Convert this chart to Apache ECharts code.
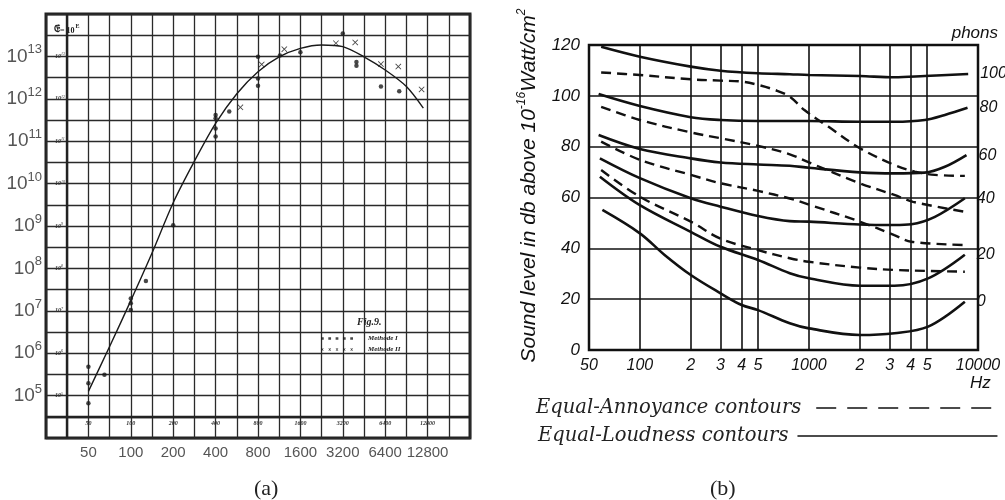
<!DOCTYPE html>
<html>
<head>
<meta charset="utf-8">
<script src="https://cdn.jsdelivr.net/npm/echarts@6/dist/echarts.min.js"></script>
<style>
html,body{margin:0;padding:0;background:#fff;}
#c{width:1005px;height:500px;}
</style>
</head>
<body>
<div id="c"></div>
<script>
// ================= (a) data =================
// frequency N (x, octave axis) and exponent E of 𝔈 = 10^E (y)
const octaveTicks = [50, 100, 200, 400, 800, 1600, 3200, 6400, 12800];
const exponentTicks = [5, 6, 7, 8, 9, 10, 11, 12, 13];
const fitN = [50, 71, 100, 141, 200, 283, 400, 566, 800, 1131, 1600, 2263, 3200, 4525, 6400, 9051, 11940];
const fitE = [5.10, 6.17, 7.24, 8.35, 9.55, 10.53, 11.42, 12.12, 12.64, 12.99, 13.19, 13.27, 13.23, 12.99, 12.68, 12.29, 11.78];
const methode1N = [50, 50, 50, 65, 100, 100, 100, 128, 200, 400, 400, 400, 400, 500, 800, 800, 800, 1145, 1600, 3200, 4000, 4000, 5970, 8050];
const methode1E = [5.68, 5.29, 4.82, 5.49, 7.29, 7.18, 7.02, 7.70, 9.02, 11.62, 11.54, 11.30, 11.11, 11.70, 12.99, 12.48, 12.31, 13.02, 13.10, 13.54, 12.87, 12.78, 12.29, 12.18];
const methode2N = [600, 850, 1230, 2860, 3920, 5970, 7930, 11600];
const methode2E = [11.80, 12.81, 13.17, 13.31, 13.33, 12.82, 12.76, 12.22];

// ================= (b) data =================
const freqGrid = [100, 200, 300, 400, 500, 1000, 2000, 3000, 4000, 5000];
const freqLabelValues = [50, 100, 200, 300, 400, 500, 1000, 2000, 3000, 4000, 5000, 10000];
const freqLabels = ['50', '100', '2', '3', '4', '5', '1000', '2', '3', '4', '5', '10000'];
const loudnessPhons = [100, 80, 60, 40, 20, 0];
const loud100 = [[59,119.3],[100,115.4],[200,111.5],[300,109.9],[500,108.9],[770,108.5],[1000,108.2],[2000,107.8],[3200,107.3],[4840,107.8],[8750,108.6]];
const loud80  = [[57,100.7],[100,96.0],[200,91.6],[300,90.5],[500,90.1],[1000,90.1],[2000,89.8],[3200,89.8],[4840,90.5],[6370,92.5],[8670,95.3]];
const loud60  = [[57,84.6],[100,79.1],[200,75.4],[300,73.8],[500,73.0],[770,72.5],[1000,71.7],[2000,69.9],[3200,69.5],[4840,69.8],[6370,72.1],[8550,76.7]];
const loud40  = [[58,75.4],[100,67.6],[200,59.7],[300,56.4],[500,52.7],[770,50.7],[1000,50.5],[2000,49.4],[3200,49.2],[4040,49.5],[5560,52.4],[8360,59.7]];
const loud20  = [[58,68.2],[100,57.0],[200,46.5],[300,40.6],[500,35.4],[770,30.2],[1000,28.2],[2000,25.3],[3200,25.3],[5070,28.2],[8360,37.5]];
const loud0   = [[60,55.1],[100,45.9],[140,37.4],[200,29.5],[300,22.3],[400,17.7],[500,15.7],[770,10.5],[1000,8.5],[2000,5.9],[3200,6.6],[5070,9.2],[8360,19.0]];
const annoy1  = [[59,109.2],[100,108.2],[200,106.5],[300,106.0],[400,105.6],[500,104.3],[630,102.3],[770,99.7],[940,94.4],[1300,87.9],[2000,79.4],[3200,72.8],[4230,70.2],[5560,68.9],[8360,68.5]];
const annoy2  = [[59,95.7],[100,90.5],[200,85.6],[300,83.3],[500,80.3],[770,77.0],[1000,73.8],[2000,65.6],[3200,61.0],[4130,58.3],[8360,54.4]];
const annoy3  = [[59,82.0],[100,74.8],[200,68.9],[300,65.6],[500,62.6],[770,59.6],[1000,57.2],[2000,50.5],[3200,45.2],[4040,42.6],[8360,41.3]];
const annoy4  = [[59,70.8],[100,60.3],[200,50.5],[300,43.8],[500,39.3],[770,36.1],[1000,34.7],[2000,32.4],[3200,31.5],[5070,31.1],[8360,30.8]];

// ================= helpers =================
const octave = n => Math.log2(n / 25);          // position on the octave axis of (a)
const lg = f => Math.log10(f);                   // position on the log-frequency axis of (b)
const near = (a, b) => Math.abs(a - b) < 1e-6;

const DARK = '#222';
const ink = '#111';
const noSymbol = { color: 'rgba(0,0,0,0)', borderWidth: 0, opacity: 0 };

const dotsIcon = 'path://M0,0h3v3h-3zM8,0h3v3h-3zM16,0h3v3h-3zM24,0h3v3h-3zM32,0h3v3h-3z';
const crossUnit = (x) => `M${x},0L${x+1},0L${x+1.5},1L${x+2},0L${x+3},0L${x+2},1.5L${x+3},3L${x+2},3L${x+1.5},2L${x+1},3L${x},3L${x+1},1.5Z`;
const crossIcon = 'path://' + [0, 8, 16, 24, 32].map(crossUnit).join('');
const crossSymbol = 'path://M0,1L1,0L5,4L9,0L10,1L6,5L10,9L9,10L5,6L1,10L0,9L4,5Z';

const loudSets = [loud100, loud80, loud60, loud40, loud20, loud0];
const annoySets = [annoy1, annoy2, annoy3, annoy4];

const rightSeries = [];
annoySets.forEach(set => {
  rightSeries.push({
    name: 'Equal-Annoyance contours', type: 'line', xAxisIndex: 2, yAxisIndex: 2,
    smooth: 0.35, symbol: 'none', silent: true,
    itemStyle: { color: ink },
    lineStyle: { color: ink, width: 2.4, type: [10, 6] },
    data: set.map(p => [lg(p[0]), p[1]])
  });
});
loudSets.forEach((set, i) => {
  rightSeries.push({
    name: 'Equal-Loudness contours', type: 'line', xAxisIndex: 2, yAxisIndex: 2,
    smooth: 0.35, symbol: 'none', silent: true,
    itemStyle: { color: ink },
    lineStyle: { color: ink, width: 2.6, type: 'solid' },
    endLabel: {
      show: true, formatter: String(loudnessPhons[i]), distance: 12,
      fontFamily: 'Liberation Sans', fontStyle: 'italic', fontSize: 16, color: ink
    },
    data: set.map(p => [lg(p[0]), p[1]])
  });
});

const option = {
  animation: false,
  backgroundColor: '#fff',
  title: [
    { text: '(a)', left: 249, top: 473, textStyle: { fontFamily: 'Liberation Serif', fontWeight: 'normal', fontSize: 22, color: DARK } },
    { text: '(b)', left: 705, top: 473, textStyle: { fontFamily: 'Liberation Serif', fontWeight: 'normal', fontSize: 22, color: DARK } },
    { text: 'Fig.9.', left: 352, top: 312, textStyle: { fontFamily: 'Liberation Serif', fontStyle: 'italic', fontWeight: 'bold', fontSize: 10, color: DARK } },
    { text: '{e|𝔈}{t|= 10}{s|E}', left: 49, top: 18,
      textStyle: { rich: {
        e: { fontFamily: 'DejaVu Serif', fontSize: 10, fontWeight: 'bold', color: DARK },
        t: { fontFamily: 'Liberation Serif', fontSize: 8, color: DARK, padding: [3, 0, 0, 0] },
        s: { fontFamily: 'Liberation Serif', fontSize: 6, color: DARK, padding: [0, 0, 6, 1] } } } },
    { text: 'phons', right: 2, top: 20, textStyle: { fontFamily: 'Liberation Sans', fontStyle: 'italic', fontWeight: 'normal', fontSize: 17, color: ink } }
  ],
  legend: [
    {
      data: [{ name: 'Methode I', icon: dotsIcon }, { name: 'Methode II', icon: crossIcon }],
      left: 316, top: 330, orient: 'vertical', itemWidth: 32, itemHeight: 4, itemGap: 4,
      selectedMode: false,
      textStyle: { fontFamily: 'Liberation Serif', fontStyle: 'italic', fontWeight: 'bold', fontSize: 7, color: DARK, padding: [0, 0, 0, 10] }
    },
    {
      data: [{ name: 'Equal-Annoyance contours', lineStyle: { type: [20, 11], width: 1.5 }, itemStyle: noSymbol }],
      left: 531, top: 393, align: 'right', itemWidth: 178, itemHeight: 14, selectedMode: false,
      textStyle: { fontFamily: 'DejaVu Serif', fontStyle: 'italic', fontSize: 19.5, color: DARK, padding: [0, 10, 0, 0] }
    },
    {
      data: [{ name: 'Equal-Loudness contours', lineStyle: { width: 1.5 }, itemStyle: noSymbol }],
      left: 533, top: 421, align: 'right', itemWidth: 200, itemHeight: 14, selectedMode: false,
      textStyle: { fontFamily: 'DejaVu Serif', fontStyle: 'italic', fontSize: 19.5, color: DARK, padding: [0, 4, 0, 0] }
    }
  ],
  grid: [
    { left: 46, top: 14, width: 424, height: 424, outerBoundsMode: 'none', show: true, borderColor: DARK, borderWidth: 3, backgroundColor: 'transparent' },
    { left: 589, top: 45, width: 389, height: 305, outerBoundsMode: 'none', show: true, borderColor: ink, borderWidth: 2.5, backgroundColor: 'transparent' }
  ],
  xAxis: [
    { // (a) outer labels
      gridIndex: 0, type: 'value', position: 'bottom', min: 0, max: 10, interval: 0.5,
      axisLine: { show: false }, axisTick: { show: false },
      splitLine: { show: true, lineStyle: { color: '#2a2a2a', width: 1.3 } },
      axisLabel: {
        interval: 0, margin: 7, fontFamily: 'Liberation Sans', fontSize: 15, color: '#555',
        formatter: v => { const m = octaveTicks.find(n => near(octave(n), v)); return m ? String(m) : ''; }
      }
    },
    { // (a) small inner labels
      gridIndex: 0, type: 'value', position: 'bottom', min: 0, max: 10, interval: 0.5,
      axisLine: { show: false }, axisTick: { show: false }, splitLine: { show: false },
      axisLabel: {
        inside: true, interval: 0, margin: 12, fontFamily: 'Liberation Serif', fontStyle: 'italic', fontWeight: 'bold', fontSize: 6, color: '#333',
        formatter: v => { const m = octaveTicks.find(n => near(octave(n), v)); return m ? String(m) : ''; }
      }
    },
    { // (b) log frequency
      gridIndex: 1, type: 'value', min: lg(50), max: lg(10000),
      axisLine: { show: false },
      axisTick: { show: false, customValues: freqGrid.map(lg) },
      splitLine: { show: true, lineStyle: { color: ink, width: 1.6 } },
      axisLabel: {
        customValues: freqLabelValues.map(lg), margin: 8,
        fontFamily: 'Liberation Sans', fontStyle: 'italic', fontSize: 16, color: ink,
        formatter: v => { const i = freqLabelValues.findIndex(f => near(lg(f), v)); return i >= 0 ? freqLabels[i] : ''; }
      },
      name: 'Hz', nameLocation: 'end', nameGap: -8,
      nameTextStyle: { fontFamily: 'Liberation Sans', fontStyle: 'italic', fontSize: 17, color: ink, verticalAlign: 'top', padding: [25, 0, 0, 0] }
    }
  ],
  yAxis: [
    { // (a) outer labels
      gridIndex: 0, type: 'value', position: 'left', min: 4, max: 14, interval: 0.5,
      axisLine: { show: false }, axisTick: { show: false },
      splitLine: { show: true, lineStyle: { color: '#2a2a2a', width: 1.3 } },
      axisLabel: {
        interval: 0, margin: 4,
        formatter: v => exponentTicks.some(e => near(e, v)) ? '{b|10}{s|' + Math.round(v) + '}' : '',
        rich: {
          b: { fontFamily: 'Liberation Sans', fontSize: 19, color: '#555' },
          s: { fontFamily: 'Liberation Sans', fontSize: 13, color: '#555', padding: [0, 0, 13, 0] }
        }
      }
    },
    { // (a) small inner labels
      gridIndex: 0, type: 'value', position: 'left', min: 4, max: 14, interval: 0.5,
      axisLine: { show: false }, axisTick: { show: false }, splitLine: { show: false },
      axisLabel: {
        inside: true, interval: 0, margin: 9,
        formatter: v => exponentTicks.some(e => near(e, v)) ? '{b|10}{s|' + Math.round(v) + '}' : '',
        rich: {
          b: { fontFamily: 'Liberation Serif', fontStyle: 'italic', fontWeight: 'bold', fontSize: 6, color: '#333' },
          s: { fontFamily: 'Liberation Serif', fontStyle: 'italic', fontSize: 4, color: '#333', padding: [0, 0, 4, 0] }
        }
      }
    },
    { // (b) sound level
      gridIndex: 1, type: 'value', position: 'left', min: 0, max: 120, interval: 20,
      axisLine: { show: false }, axisTick: { show: false },
      splitLine: { show: true, lineStyle: { color: ink, width: 1.6 } },
      axisLabel: { margin: 9, fontFamily: 'Liberation Sans', fontStyle: 'italic', fontSize: 17, color: ink },
      name: '{n|Sound level in db above 10}{s|-16}{n|Watt/cm}{s|2}',
      nameLocation: 'middle', nameGap: 47,
      nameTextStyle: {
        padding: [0, 0, 0, 24],
        rich: {
          n: { fontFamily: 'Liberation Sans', fontStyle: 'italic', fontSize: 21, color: ink },
          s: { fontFamily: 'Liberation Sans', fontStyle: 'italic', fontSize: 12, color: ink, padding: [0, 0, 14, 0] }
        }
      }
    }
  ],
  series: [
    {
      name: 'fit', type: 'line', xAxisIndex: 0, yAxisIndex: 0, smooth: 0.3, symbol: 'none', silent: true,
      lineStyle: { color: '#1a1a1a', width: 1.4 },
      data: fitN.map((n, i) => [octave(n), fitE[i]]),
      markLine: {
        silent: true, symbol: 'none', label: { show: false },
        lineStyle: { color: DARK, width: 2.4, type: 'solid' },
        data: [{ xAxis: 0.5 }, { yAxis: 4.5 }]
      }
    },
    {
      name: 'Methode I', type: 'scatter', xAxisIndex: 0, yAxisIndex: 0, symbol: 'circle', symbolSize: 4.5,
      itemStyle: { color: '#1a1a1a' }, silent: true,
      data: methode1N.map((n, i) => [octave(n), methode1E[i]])
    },
    {
      name: 'Methode II', type: 'scatter', xAxisIndex: 0, yAxisIndex: 0, symbol: crossSymbol, symbolSize: 6,
      itemStyle: { color: '#1a1a1a' }, silent: true,
      data: methode2N.map((n, i) => [octave(n), methode2E[i]])
    }
  ].concat(rightSeries)
};

const chart = echarts.init(document.getElementById('c'), null, { renderer: 'canvas' });
chart.setOption(option);
</script>
</body>
</html>
